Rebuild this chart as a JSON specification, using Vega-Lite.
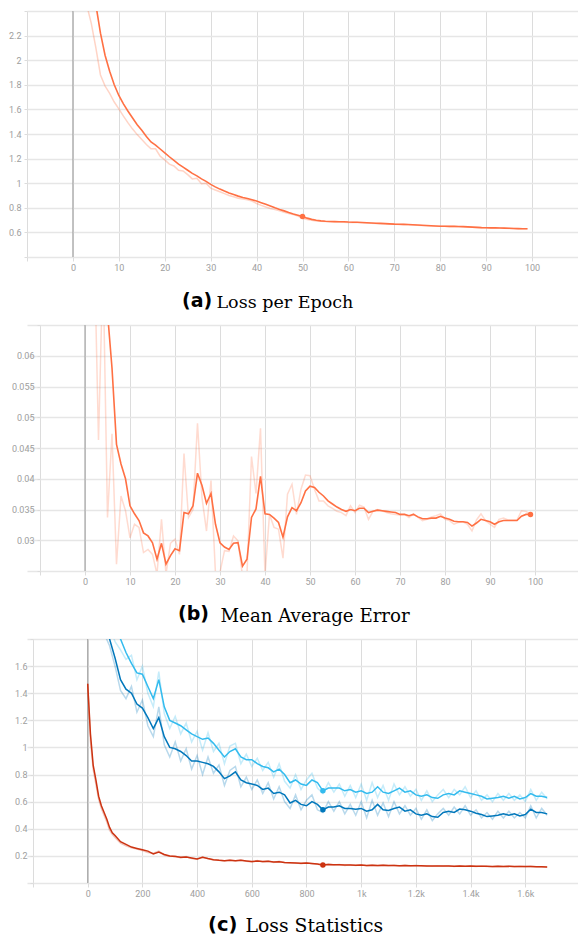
{
"$schema": "https://vega.github.io/schema/vega-lite/v6.json",
"padding": {"left": 0, "right": 0, "top": 7, "bottom": 0},
"config": {"view": {"stroke": null}, "axis": {"labelFont": "Roboto", "labelFontSize": 9, "labelColor": "#9e9e9e", "domain": false, "labelOverlap": false, "labelFlush": false}},
"datasets": {
"epochLoss": [
{"epoch":0,"smooth":3.5,"raw":3.5},{"epoch":1,"smooth":3.25,"raw":2.9},{"epoch":2,"smooth":3.0,"raw":2.65},{"epoch":3,"smooth":2.8,"raw":2.45},{"epoch":4,"smooth":2.62,"raw":2.3},{"epoch":5,"smooth":2.45,"raw":2.1},{"epoch":6,"smooth":2.22,"raw":1.88},{"epoch":7,"smooth":2.04,"raw":1.79},{"epoch":8,"smooth":1.91,"raw":1.73},{"epoch":9,"smooth":1.8,"raw":1.66},
{"epoch":10,"smooth":1.713,"raw":1.605},{"epoch":11,"smooth":1.645,"raw":1.545},{"epoch":12,"smooth":1.585,"raw":1.49},{"epoch":13,"smooth":1.53,"raw":1.44},{"epoch":14,"smooth":1.475,"raw":1.395},{"epoch":15,"smooth":1.43,"raw":1.355},{"epoch":16,"smooth":1.38,"raw":1.315},{"epoch":17,"smooth":1.335,"raw":1.28},{"epoch":18,"smooth":1.31,"raw":1.28},{"epoch":19,"smooth":1.278,"raw":1.22},
{"epoch":20,"smooth":1.247,"raw":1.19},{"epoch":21,"smooth":1.215,"raw":1.155},{"epoch":22,"smooth":1.185,"raw":1.14},{"epoch":23,"smooth":1.155,"raw":1.105},{"epoch":24,"smooth":1.13,"raw":1.1},{"epoch":25,"smooth":1.105,"raw":1.07},{"epoch":26,"smooth":1.08,"raw":1.035},{"epoch":27,"smooth":1.06,"raw":1.04},{"epoch":28,"smooth":1.035,"raw":0.995},{"epoch":29,"smooth":1.015,"raw":1.0},
{"epoch":30,"smooth":0.99,"raw":0.96},{"epoch":31,"smooth":0.97,"raw":0.945},{"epoch":32,"smooth":0.952,"raw":0.93},{"epoch":33,"smooth":0.936,"raw":0.915},{"epoch":34,"smooth":0.921,"raw":0.9},{"epoch":35,"smooth":0.908,"raw":0.89},{"epoch":36,"smooth":0.895,"raw":0.878},{"epoch":37,"smooth":0.884,"raw":0.872},{"epoch":38,"smooth":0.875,"raw":0.866},{"epoch":39,"smooth":0.866,"raw":0.855},
{"epoch":40,"smooth":0.855,"raw":0.835},{"epoch":41,"smooth":0.842,"raw":0.82},{"epoch":42,"smooth":0.828,"raw":0.806},{"epoch":43,"smooth":0.814,"raw":0.795},{"epoch":44,"smooth":0.8,"raw":0.785},{"epoch":45,"smooth":0.787,"raw":0.775},{"epoch":46,"smooth":0.775,"raw":0.764},{"epoch":47,"smooth":0.762,"raw":0.754},{"epoch":48,"smooth":0.75,"raw":0.745},{"epoch":49,"smooth":0.74,"raw":0.733},
{"epoch":50,"smooth":0.73,"raw":0.715},{"epoch":51,"smooth":0.716,"raw":0.705},{"epoch":52,"smooth":0.706,"raw":0.698},{"epoch":53,"smooth":0.699,"raw":0.693},{"epoch":54,"smooth":0.694,"raw":0.69},{"epoch":55,"smooth":0.691,"raw":0.688},{"epoch":56,"smooth":0.689,"raw":0.687},{"epoch":57,"smooth":0.688,"raw":0.686},{"epoch":58,"smooth":0.687,"raw":0.684},{"epoch":59,"smooth":0.686,"raw":0.683},
{"epoch":60,"smooth":0.684,"raw":0.681},{"epoch":61,"smooth":0.683,"raw":0.682},{"epoch":62,"smooth":0.682,"raw":0.68},{"epoch":63,"smooth":0.681,"raw":0.679},{"epoch":64,"smooth":0.679,"raw":0.677},{"epoch":65,"smooth":0.677,"raw":0.675},{"epoch":66,"smooth":0.675,"raw":0.673},{"epoch":67,"smooth":0.673,"raw":0.671},{"epoch":68,"smooth":0.671,"raw":0.67},{"epoch":69,"smooth":0.669,"raw":0.667},
{"epoch":70,"smooth":0.667,"raw":0.666},{"epoch":71,"smooth":0.666,"raw":0.665},{"epoch":72,"smooth":0.665,"raw":0.664},{"epoch":73,"smooth":0.664,"raw":0.662},{"epoch":74,"smooth":0.662,"raw":0.66},{"epoch":75,"smooth":0.66,"raw":0.658},{"epoch":76,"smooth":0.658,"raw":0.656},{"epoch":77,"smooth":0.656,"raw":0.655},{"epoch":78,"smooth":0.654,"raw":0.652},{"epoch":79,"smooth":0.652,"raw":0.651},
{"epoch":80,"smooth":0.65,"raw":0.649},{"epoch":81,"smooth":0.65,"raw":0.649},{"epoch":82,"smooth":0.649,"raw":0.648},{"epoch":83,"smooth":0.649,"raw":0.647},{"epoch":84,"smooth":0.648,"raw":0.646},{"epoch":85,"smooth":0.647,"raw":0.645},{"epoch":86,"smooth":0.645,"raw":0.643},{"epoch":87,"smooth":0.643,"raw":0.641},{"epoch":88,"smooth":0.641,"raw":0.64},{"epoch":89,"smooth":0.639,"raw":0.638},
{"epoch":90,"smooth":0.638,"raw":0.637},{"epoch":91,"smooth":0.637,"raw":0.636},{"epoch":92,"smooth":0.637,"raw":0.636},{"epoch":93,"smooth":0.636,"raw":0.635},{"epoch":94,"smooth":0.635,"raw":0.633},{"epoch":95,"smooth":0.634,"raw":0.632},{"epoch":96,"smooth":0.632,"raw":0.631},{"epoch":97,"smooth":0.631,"raw":0.63},{"epoch":98,"smooth":0.63,"raw":0.629},{"epoch":99,"smooth":0.63,"raw":0.629}
],
"mae": [
{"epoch":0,"smooth":0.12,"raw":0.12},{"epoch":1,"smooth":0.105,"raw":0.1},{"epoch":2,"smooth":0.09,"raw":0.08},{"epoch":3,"smooth":0.078,"raw":0.0463},{"epoch":4,"smooth":0.073,"raw":0.075},{"epoch":5,"smooth":0.067,"raw":0.0337},{"epoch":6,"smooth":0.058,"raw":0.0473},{"epoch":7,"smooth":0.0456,"raw":0.0261},{"epoch":8,"smooth":0.0424,"raw":0.0372},{"epoch":9,"smooth":0.04,"raw":0.0348},
{"epoch":10,"smooth":0.0356,"raw":0.0304},{"epoch":11,"smooth":0.0343,"raw":0.0326},{"epoch":12,"smooth":0.0332,"raw":0.0321},{"epoch":13,"smooth":0.0312,"raw":0.028},{"epoch":14,"smooth":0.0307,"raw":0.0285},{"epoch":15,"smooth":0.0296,"raw":0.0277},{"epoch":16,"smooth":0.0269,"raw":0.0245},{"epoch":17,"smooth":0.0295,"raw":0.0334},{"epoch":18,"smooth":0.0261,"raw":0.0245},{"epoch":19,"smooth":0.0275,"raw":0.0295},
{"epoch":20,"smooth":0.0286,"raw":0.0302},{"epoch":21,"smooth":0.0283,"raw":0.0277},{"epoch":22,"smooth":0.0345,"raw":0.0441},{"epoch":23,"smooth":0.0343,"raw":0.0337},{"epoch":24,"smooth":0.0356,"raw":0.035},{"epoch":25,"smooth":0.0409,"raw":0.049},{"epoch":26,"smooth":0.0389,"raw":0.0369},{"epoch":27,"smooth":0.036,"raw":0.0315},{"epoch":28,"smooth":0.0376,"raw":0.0397},{"epoch":29,"smooth":0.0326,"raw":0.0245},
{"epoch":30,"smooth":0.0296,"raw":0.0248},{"epoch":31,"smooth":0.0289,"raw":0.0283},{"epoch":32,"smooth":0.0285,"raw":0.0282},{"epoch":33,"smooth":0.0295,"raw":0.0307},{"epoch":34,"smooth":0.0296,"raw":0.0299},{"epoch":35,"smooth":0.0258,"raw":0.0242},{"epoch":36,"smooth":0.0269,"raw":0.0245},{"epoch":37,"smooth":0.0337,"raw":0.0436},{"epoch":38,"smooth":0.0351,"raw":0.0376},{"epoch":39,"smooth":0.0404,"raw":0.0482},
{"epoch":40,"smooth":0.0343,"raw":0.0243},{"epoch":41,"smooth":0.0342,"raw":0.0342},{"epoch":42,"smooth":0.0336,"raw":0.0321},{"epoch":43,"smooth":0.0329,"raw":0.0318},{"epoch":44,"smooth":0.0305,"raw":0.0271},{"epoch":45,"smooth":0.0338,"raw":0.0375},{"epoch":46,"smooth":0.0353,"raw":0.0391},{"epoch":47,"smooth":0.0348,"raw":0.0342},{"epoch":48,"smooth":0.0361,"raw":0.0383},{"epoch":49,"smooth":0.038,"raw":0.0406},
{"epoch":50,"smooth":0.0388,"raw":0.0405},{"epoch":51,"smooth":0.0386,"raw":0.0383},{"epoch":52,"smooth":0.0378,"raw":0.0364},{"epoch":53,"smooth":0.0372,"raw":0.0364},{"epoch":54,"smooth":0.0364,"raw":0.0356},{"epoch":55,"smooth":0.0359,"raw":0.0352},{"epoch":56,"smooth":0.0354,"raw":0.0347},{"epoch":57,"smooth":0.035,"raw":0.0345},{"epoch":58,"smooth":0.0347,"raw":0.034},{"epoch":59,"smooth":0.035,"raw":0.0356},
{"epoch":60,"smooth":0.0348,"raw":0.0345},{"epoch":61,"smooth":0.0352,"raw":0.0357},{"epoch":62,"smooth":0.0352,"raw":0.0354},{"epoch":63,"smooth":0.0345,"raw":0.0334},{"epoch":64,"smooth":0.0347,"raw":0.0347},{"epoch":65,"smooth":0.0349,"raw":0.035},{"epoch":66,"smooth":0.0348,"raw":0.0348},{"epoch":67,"smooth":0.0347,"raw":0.0345},{"epoch":68,"smooth":0.0346,"raw":0.0343},{"epoch":69,"smooth":0.0345,"raw":0.0342},
{"epoch":70,"smooth":0.0342,"raw":0.0341},{"epoch":71,"smooth":0.0342,"raw":0.0342},{"epoch":72,"smooth":0.034,"raw":0.0337},{"epoch":73,"smooth":0.0342,"raw":0.0343},{"epoch":74,"smooth":0.0338,"raw":0.0337},{"epoch":75,"smooth":0.0335,"raw":0.0332},{"epoch":76,"smooth":0.0335,"raw":0.0334},{"epoch":77,"smooth":0.0336,"raw":0.0338},{"epoch":78,"smooth":0.0336,"raw":0.034},{"epoch":79,"smooth":0.0339,"raw":0.0343},
{"epoch":80,"smooth":0.0336,"raw":0.0334},{"epoch":81,"smooth":0.0334,"raw":0.0332},{"epoch":82,"smooth":0.0331,"raw":0.0326},{"epoch":83,"smooth":0.033,"raw":0.0329},{"epoch":84,"smooth":0.033,"raw":0.033},{"epoch":85,"smooth":0.0329,"raw":0.0326},{"epoch":86,"smooth":0.0323,"raw":0.0315},{"epoch":87,"smooth":0.0328,"raw":0.0333},{"epoch":88,"smooth":0.0334,"raw":0.0343},{"epoch":89,"smooth":0.0332,"raw":0.0332},
{"epoch":90,"smooth":0.033,"raw":0.0326},{"epoch":91,"smooth":0.0326,"raw":0.0321},{"epoch":92,"smooth":0.033,"raw":0.0334},{"epoch":93,"smooth":0.0332,"raw":0.0336},{"epoch":94,"smooth":0.0332,"raw":0.0333},{"epoch":95,"smooth":0.0332,"raw":0.0333},{"epoch":96,"smooth":0.0332,"raw":0.0333},{"epoch":97,"smooth":0.0339,"raw":0.0348},{"epoch":98,"smooth":0.0342,"raw":0.0347},{"epoch":99,"smooth":0.0342,"raw":0.0342}
],
"stats": [
{"step":0,"series":"total","smooth":1.47,"raw":1.47},{"step":10,"series":"total","smooth":1.1,"raw":1.05},{"step":20,"series":"total","smooth":0.87,"raw":0.84},{"step":30,"series":"total","smooth":0.76,"raw":0.73},{"step":40,"series":"total","smooth":0.64,"raw":0.62},{"step":50,"series":"total","smooth":0.57,"raw":0.55},{"step":60,"series":"total","smooth":0.52,"raw":0.5},{"step":70,"series":"total","smooth":0.47,"raw":0.45},{"step":80,"series":"total","smooth":0.41,"raw":0.39},{"step":90,"series":"total","smooth":0.37,"raw":0.36},
{"step":100,"series":"total","smooth":0.35,"raw":0.335},{"step":120,"series":"total","smooth":0.305,"raw":0.295},{"step":140,"series":"total","smooth":0.285,"raw":0.275},{"step":160,"series":"total","smooth":0.265,"raw":0.26},{"step":180,"series":"total","smooth":0.255,"raw":0.25},{"step":200,"series":"total","smooth":0.245,"raw":0.24},{"step":220,"series":"total","smooth":0.235,"raw":0.225},{"step":240,"series":"total","smooth":0.215,"raw":0.22},{"step":260,"series":"total","smooth":0.228,"raw":0.235},{"step":280,"series":"total","smooth":0.21,"raw":0.205},
{"step":300,"series":"total","smooth":0.2,"raw":0.198},{"step":320,"series":"total","smooth":0.195,"raw":0.2},{"step":340,"series":"total","smooth":0.19,"raw":0.185},{"step":360,"series":"total","smooth":0.192,"raw":0.195},{"step":380,"series":"total","smooth":0.185,"raw":0.18},{"step":400,"series":"total","smooth":0.178,"raw":0.175},{"step":420,"series":"total","smooth":0.19,"raw":0.192},{"step":440,"series":"total","smooth":0.18,"raw":0.178},{"step":460,"series":"total","smooth":0.172,"raw":0.17},{"step":480,"series":"total","smooth":0.168,"raw":0.17},
{"step":500,"series":"total","smooth":0.165,"raw":0.163},{"step":520,"series":"total","smooth":0.167,"raw":0.17},{"step":540,"series":"total","smooth":0.165,"raw":0.162},{"step":560,"series":"total","smooth":0.168,"raw":0.17},{"step":580,"series":"total","smooth":0.163,"raw":0.16},{"step":600,"series":"total","smooth":0.158,"raw":0.155},{"step":620,"series":"total","smooth":0.162,"raw":0.165},{"step":640,"series":"total","smooth":0.158,"raw":0.155},{"step":660,"series":"total","smooth":0.16,"raw":0.162},{"step":680,"series":"total","smooth":0.155,"raw":0.152},
{"step":700,"series":"total","smooth":0.157,"raw":0.16},{"step":720,"series":"total","smooth":0.152,"raw":0.15},{"step":740,"series":"total","smooth":0.15,"raw":0.148},{"step":760,"series":"total","smooth":0.148,"raw":0.15},{"step":780,"series":"total","smooth":0.145,"raw":0.142},{"step":800,"series":"total","smooth":0.147,"raw":0.15},{"step":820,"series":"total","smooth":0.144,"raw":0.142},{"step":840,"series":"total","smooth":0.14,"raw":0.138},{"step":860,"series":"total","smooth":0.132,"raw":0.131},{"step":880,"series":"total","smooth":0.137,"raw":0.14},
{"step":900,"series":"total","smooth":0.135,"raw":0.133},{"step":920,"series":"total","smooth":0.134,"raw":0.136},{"step":940,"series":"total","smooth":0.132,"raw":0.13},{"step":960,"series":"total","smooth":0.133,"raw":0.135},{"step":980,"series":"total","smooth":0.131,"raw":0.129},{"step":1000,"series":"total","smooth":0.132,"raw":0.134},{"step":1020,"series":"total","smooth":0.13,"raw":0.128},{"step":1040,"series":"total","smooth":0.131,"raw":0.133},{"step":1060,"series":"total","smooth":0.13,"raw":0.128},{"step":1080,"series":"total","smooth":0.131,"raw":0.133},
{"step":1100,"series":"total","smooth":0.129,"raw":0.127},{"step":1120,"series":"total","smooth":0.13,"raw":0.131},{"step":1140,"series":"total","smooth":0.128,"raw":0.126},{"step":1160,"series":"total","smooth":0.129,"raw":0.131},{"step":1180,"series":"total","smooth":0.127,"raw":0.125},{"step":1200,"series":"total","smooth":0.128,"raw":0.13},{"step":1220,"series":"total","smooth":0.127,"raw":0.125},{"step":1240,"series":"total","smooth":0.126,"raw":0.128},{"step":1260,"series":"total","smooth":0.125,"raw":0.123},{"step":1280,"series":"total","smooth":0.126,"raw":0.128},
{"step":1300,"series":"total","smooth":0.125,"raw":0.124},{"step":1320,"series":"total","smooth":0.126,"raw":0.127},{"step":1340,"series":"total","smooth":0.124,"raw":0.122},{"step":1360,"series":"total","smooth":0.125,"raw":0.127},{"step":1380,"series":"total","smooth":0.124,"raw":0.123},{"step":1400,"series":"total","smooth":0.125,"raw":0.126},{"step":1420,"series":"total","smooth":0.123,"raw":0.121},{"step":1440,"series":"total","smooth":0.124,"raw":0.125},{"step":1460,"series":"total","smooth":0.123,"raw":0.122},{"step":1480,"series":"total","smooth":0.122,"raw":0.12},
{"step":1500,"series":"total","smooth":0.123,"raw":0.124},{"step":1520,"series":"total","smooth":0.122,"raw":0.121},{"step":1540,"series":"total","smooth":0.123,"raw":0.124},{"step":1560,"series":"total","smooth":0.121,"raw":0.12},{"step":1580,"series":"total","smooth":0.122,"raw":0.123},{"step":1600,"series":"total","smooth":0.121,"raw":0.12},{"step":1620,"series":"total","smooth":0.122,"raw":0.123},{"step":1640,"series":"total","smooth":0.12,"raw":0.119},{"step":1660,"series":"total","smooth":0.119,"raw":0.118},{"step":1680,"series":"total","smooth":0.118,"raw":0.117},
{"step":0,"series":"dark","smooth":2.4,"raw":2.4},{"step":20,"series":"dark","smooth":2.2,"raw":2.15},{"step":40,"series":"dark","smooth":2.0,"raw":2.05},{"step":60,"series":"dark","smooth":1.9,"raw":1.84},{"step":80,"series":"dark","smooth":1.8,"raw":1.75},{"step":100,"series":"dark","smooth":1.66,"raw":1.6},{"step":120,"series":"dark","smooth":1.5,"raw":1.42},{"step":140,"series":"dark","smooth":1.43,"raw":1.36},{"step":160,"series":"dark","smooth":1.4,"raw":1.45},{"step":180,"series":"dark","smooth":1.32,"raw":1.26},
{"step":200,"series":"dark","smooth":1.29,"raw":1.35},{"step":220,"series":"dark","smooth":1.22,"raw":1.16},{"step":240,"series":"dark","smooth":1.14,"raw":1.08},{"step":260,"series":"dark","smooth":1.22,"raw":1.3},{"step":280,"series":"dark","smooth":1.08,"raw":1.02},{"step":300,"series":"dark","smooth":1.0,"raw":0.93},{"step":320,"series":"dark","smooth":0.99,"raw":1.04},{"step":340,"series":"dark","smooth":0.97,"raw":0.9},{"step":360,"series":"dark","smooth":0.94,"raw":0.99},{"step":380,"series":"dark","smooth":0.9,"raw":0.84},
{"step":400,"series":"dark","smooth":0.9,"raw":0.94},{"step":420,"series":"dark","smooth":0.89,"raw":0.8},{"step":440,"series":"dark","smooth":0.88,"raw":0.93},{"step":460,"series":"dark","smooth":0.86,"raw":0.81},{"step":480,"series":"dark","smooth":0.82,"raw":0.87},{"step":500,"series":"dark","smooth":0.77,"raw":0.72},{"step":520,"series":"dark","smooth":0.79,"raw":0.83},{"step":540,"series":"dark","smooth":0.82,"raw":0.86},{"step":560,"series":"dark","smooth":0.76,"raw":0.71},{"step":580,"series":"dark","smooth":0.74,"raw":0.78},
{"step":600,"series":"dark","smooth":0.73,"raw":0.69},{"step":620,"series":"dark","smooth":0.72,"raw":0.76},{"step":640,"series":"dark","smooth":0.69,"raw":0.66},{"step":660,"series":"dark","smooth":0.7,"raw":0.74},{"step":680,"series":"dark","smooth":0.66,"raw":0.62},{"step":700,"series":"dark","smooth":0.67,"raw":0.71},{"step":720,"series":"dark","smooth":0.65,"raw":0.6},{"step":740,"series":"dark","smooth":0.59,"raw":0.55},{"step":760,"series":"dark","smooth":0.61,"raw":0.65},{"step":780,"series":"dark","smooth":0.58,"raw":0.54},
{"step":800,"series":"dark","smooth":0.57,"raw":0.61},{"step":820,"series":"dark","smooth":0.6,"raw":0.65},{"step":840,"series":"dark","smooth":0.58,"raw":0.54},{"step":860,"series":"dark","smooth":0.54,"raw":0.52},{"step":880,"series":"dark","smooth":0.56,"raw":0.6},{"step":900,"series":"dark","smooth":0.56,"raw":0.53},{"step":920,"series":"dark","smooth":0.57,"raw":0.6},{"step":940,"series":"dark","smooth":0.55,"raw":0.51},{"step":960,"series":"dark","smooth":0.55,"raw":0.58},{"step":980,"series":"dark","smooth":0.545,"raw":0.5},
{"step":1000,"series":"dark","smooth":0.55,"raw":0.6},{"step":1020,"series":"dark","smooth":0.53,"raw":0.48},{"step":1040,"series":"dark","smooth":0.54,"raw":0.61},{"step":1060,"series":"dark","smooth":0.58,"raw":0.5},{"step":1080,"series":"dark","smooth":0.54,"raw":0.59},{"step":1100,"series":"dark","smooth":0.535,"raw":0.49},{"step":1120,"series":"dark","smooth":0.55,"raw":0.6},{"step":1140,"series":"dark","smooth":0.56,"raw":0.51},{"step":1160,"series":"dark","smooth":0.53,"raw":0.57},{"step":1180,"series":"dark","smooth":0.54,"raw":0.5},
{"step":1200,"series":"dark","smooth":0.51,"raw":0.55},{"step":1220,"series":"dark","smooth":0.5,"raw":0.47},{"step":1240,"series":"dark","smooth":0.51,"raw":0.54},{"step":1260,"series":"dark","smooth":0.49,"raw":0.46},{"step":1280,"series":"dark","smooth":0.485,"raw":0.51},{"step":1300,"series":"dark","smooth":0.52,"raw":0.55},{"step":1320,"series":"dark","smooth":0.53,"raw":0.5},{"step":1340,"series":"dark","smooth":0.52,"raw":0.56},{"step":1360,"series":"dark","smooth":0.545,"raw":0.51},{"step":1380,"series":"dark","smooth":0.54,"raw":0.57},
{"step":1400,"series":"dark","smooth":0.53,"raw":0.5},{"step":1420,"series":"dark","smooth":0.515,"raw":0.54},{"step":1440,"series":"dark","smooth":0.505,"raw":0.48},{"step":1460,"series":"dark","smooth":0.49,"raw":0.52},{"step":1480,"series":"dark","smooth":0.495,"raw":0.47},{"step":1500,"series":"dark","smooth":0.5,"raw":0.53},{"step":1520,"series":"dark","smooth":0.51,"raw":0.48},{"step":1540,"series":"dark","smooth":0.5,"raw":0.53},{"step":1560,"series":"dark","smooth":0.51,"raw":0.48},{"step":1580,"series":"dark","smooth":0.495,"raw":0.52},
{"step":1600,"series":"dark","smooth":0.505,"raw":0.48},{"step":1620,"series":"dark","smooth":0.545,"raw":0.57},{"step":1640,"series":"dark","smooth":0.52,"raw":0.48},{"step":1660,"series":"dark","smooth":0.52,"raw":0.55},{"step":1680,"series":"dark","smooth":0.51,"raw":0.5},
{"step":0,"series":"light","smooth":2.6,"raw":2.6},{"step":20,"series":"light","smooth":2.4,"raw":2.35},{"step":40,"series":"light","smooth":2.2,"raw":2.25},{"step":60,"series":"light","smooth":2.05,"raw":1.98},{"step":80,"series":"light","smooth":1.95,"raw":1.9},{"step":100,"series":"light","smooth":1.85,"raw":1.78},{"step":120,"series":"light","smooth":1.8,"raw":1.72},{"step":140,"series":"light","smooth":1.7,"raw":1.65},{"step":160,"series":"light","smooth":1.62,"raw":1.68},{"step":180,"series":"light","smooth":1.55,"raw":1.5},
{"step":200,"series":"light","smooth":1.54,"raw":1.6},{"step":220,"series":"light","smooth":1.45,"raw":1.4},{"step":240,"series":"light","smooth":1.36,"raw":1.3},{"step":260,"series":"light","smooth":1.5,"raw":1.56},{"step":280,"series":"light","smooth":1.3,"raw":1.25},{"step":300,"series":"light","smooth":1.2,"raw":1.14},{"step":320,"series":"light","smooth":1.18,"raw":1.23},{"step":340,"series":"light","smooth":1.16,"raw":1.1},{"step":360,"series":"light","smooth":1.13,"raw":1.18},{"step":380,"series":"light","smooth":1.1,"raw":1.04},
{"step":400,"series":"light","smooth":1.08,"raw":1.12},{"step":420,"series":"light","smooth":1.06,"raw":0.98},{"step":440,"series":"light","smooth":1.07,"raw":1.11},{"step":460,"series":"light","smooth":1.03,"raw":0.97},{"step":480,"series":"light","smooth":0.98,"raw":1.03},{"step":500,"series":"light","smooth":0.93,"raw":0.88},{"step":520,"series":"light","smooth":0.97,"raw":1.01},{"step":540,"series":"light","smooth":0.99,"raw":1.03},{"step":560,"series":"light","smooth":0.93,"raw":0.88},{"step":580,"series":"light","smooth":0.91,"raw":0.95},
{"step":600,"series":"light","smooth":0.91,"raw":0.86},{"step":620,"series":"light","smooth":0.88,"raw":0.92},{"step":640,"series":"light","smooth":0.86,"raw":0.83},{"step":660,"series":"light","smooth":0.85,"raw":0.89},{"step":680,"series":"light","smooth":0.82,"raw":0.78},{"step":700,"series":"light","smooth":0.84,"raw":0.88},{"step":720,"series":"light","smooth":0.8,"raw":0.75},{"step":740,"series":"light","smooth":0.74,"raw":0.7},{"step":760,"series":"light","smooth":0.76,"raw":0.8},{"step":780,"series":"light","smooth":0.73,"raw":0.69},
{"step":800,"series":"light","smooth":0.72,"raw":0.76},{"step":820,"series":"light","smooth":0.76,"raw":0.81},{"step":840,"series":"light","smooth":0.74,"raw":0.7},{"step":860,"series":"light","smooth":0.68,"raw":0.66},{"step":880,"series":"light","smooth":0.7,"raw":0.74},{"step":900,"series":"light","smooth":0.7,"raw":0.67},{"step":920,"series":"light","smooth":0.7,"raw":0.73},{"step":940,"series":"light","smooth":0.68,"raw":0.64},{"step":960,"series":"light","smooth":0.69,"raw":0.72},{"step":980,"series":"light","smooth":0.67,"raw":0.63},
{"step":1000,"series":"light","smooth":0.68,"raw":0.73},{"step":1020,"series":"light","smooth":0.66,"raw":0.61},{"step":1040,"series":"light","smooth":0.67,"raw":0.74},{"step":1060,"series":"light","smooth":0.71,"raw":0.63},{"step":1080,"series":"light","smooth":0.67,"raw":0.72},{"step":1100,"series":"light","smooth":0.66,"raw":0.61},{"step":1120,"series":"light","smooth":0.68,"raw":0.73},{"step":1140,"series":"light","smooth":0.7,"raw":0.65},{"step":1160,"series":"light","smooth":0.67,"raw":0.71},{"step":1180,"series":"light","smooth":0.68,"raw":0.64},
{"step":1200,"series":"light","smooth":0.65,"raw":0.69},{"step":1220,"series":"light","smooth":0.64,"raw":0.61},{"step":1240,"series":"light","smooth":0.65,"raw":0.68},{"step":1260,"series":"light","smooth":0.63,"raw":0.6},{"step":1280,"series":"light","smooth":0.625,"raw":0.65},{"step":1300,"series":"light","smooth":0.65,"raw":0.69},{"step":1320,"series":"light","smooth":0.66,"raw":0.63},{"step":1340,"series":"light","smooth":0.65,"raw":0.69},{"step":1360,"series":"light","smooth":0.68,"raw":0.65},{"step":1380,"series":"light","smooth":0.67,"raw":0.71},
{"step":1400,"series":"light","smooth":0.66,"raw":0.63},{"step":1420,"series":"light","smooth":0.65,"raw":0.68},{"step":1440,"series":"light","smooth":0.64,"raw":0.61},{"step":1460,"series":"light","smooth":0.62,"raw":0.65},{"step":1480,"series":"light","smooth":0.625,"raw":0.6},{"step":1500,"series":"light","smooth":0.63,"raw":0.66},{"step":1520,"series":"light","smooth":0.64,"raw":0.61},{"step":1540,"series":"light","smooth":0.625,"raw":0.66},{"step":1560,"series":"light","smooth":0.64,"raw":0.61},{"step":1580,"series":"light","smooth":0.62,"raw":0.65},
{"step":1600,"series":"light","smooth":0.63,"raw":0.6},{"step":1620,"series":"light","smooth":0.66,"raw":0.69},{"step":1640,"series":"light","smooth":0.64,"raw":0.61},{"step":1660,"series":"light","smooth":0.64,"raw":0.67},{"step":1680,"series":"light","smooth":0.63,"raw":0.62}
],
"zero": [{"epoch": 0, "step": 0}]
},
"vconcat": [
{
"width": 551, "height": 246,
"title": {"text": "(a)", "orient": "bottom", "anchor": "start", "frame": "group", "dx": 155, "offset": -4, "baseline": "alphabetic", "font": "DejaVu Sans", "fontWeight": "bold", "fontSize": 19, "color": "#000000"},
"encoding": {
"x": {"field": "epoch", "type": "quantitative", "scale": {"domain": [-10, 110], "nice": false, "zero": false},
"axis": {"values": [-10,0,10,20,30,40,50,60,70,80,90,100,110], "labelExpr": "datum.value == -10 || datum.value == 110 ? '' : format(datum.value, 'd')", "labelOverlap": false, "grid": true, "gridColor": "#dcdcdc", "tickColor": "#dcdcdc", "tickSize": 4, "labelPadding": 2, "title": "Loss per Epoch", "titleFont": "DejaVu Serif", "titleFontSize": 17.5, "titleFontWeight": "normal", "titleColor": "#000000", "titleX": 189, "titleY": 50, "titleAlign": "left", "titleBaseline": "alphabetic"}},
"y": {"field": "smooth", "type": "quantitative", "scale": {"domain": [0.4, 2.4], "nice": false, "zero": false},
"axis": {"values": [0.4,0.6,0.8,1,1.2,1.4,1.6,1.8,2,2.2,2.4], "labelExpr": "datum.value == 0.4 || datum.value == 2.4 ? '' : format(datum.value, '~r')", "labelOverlap": false, "gridColor": "#e6e6e6", "gridWidth": 1.3, "tickColor": "#dcdcdc", "tickSize": 3, "labelPadding": 3, "title": null, "minExtent": 27, "maxExtent": 27}}
},
"layer": [
{"data": {"name": "zero"}, "mark": {"type": "rule", "color": "#a6a6a6", "strokeWidth": 1.2}, "encoding": {"y": null}},
{"data": {"name": "epochLoss"}, "mark": {"type": "line", "color": "#ff7043", "opacity": 0.3, "strokeWidth": 1.5, "clip": true},
 "encoding": {"y": {"field": "raw", "type": "quantitative"}}},
{"data": {"name": "epochLoss"}, "mark": {"type": "line", "color": "#ff7043", "strokeWidth": 1.6, "clip": true}, "encoding": {}},
{"data": {"name": "epochLoss"}, "transform": [{"filter": "datum.epoch == 50"}], "mark": {"type": "point", "filled": true, "color": "#ff7043", "size": 30, "opacity": 1}}
]
},
{
"width": 551, "height": 246,
"title": {"text": "(b)", "orient": "bottom", "anchor": "start", "frame": "group", "dx": 151, "offset": -4, "baseline": "alphabetic", "font": "DejaVu Sans", "fontWeight": "bold", "fontSize": 19, "color": "#000000"},
"encoding": {
"x": {"field": "epoch", "type": "quantitative", "scale": {"domain": [-12.89, 109.56], "nice": false, "zero": false},
"axis": {"values": [-10,0,10,20,30,40,50,60,70,80,90,100], "labelExpr": "datum.value == -10 ? '' : format(datum.value, 'd')", "labelOverlap": false, "grid": true, "gridColor": "#dcdcdc", "tickColor": "#dcdcdc", "tickSize": 4, "labelPadding": 2, "title": "Mean Average Error", "titleFont": "DejaVu Serif", "titleFontSize": 18.2, "titleFontWeight": "normal", "titleColor": "#000000", "titleX": 193, "titleY": 50, "titleAlign": "left", "titleBaseline": "alphabetic"}},
"y": {"field": "smooth", "type": "quantitative", "scale": {"domain": [0.025, 0.065], "nice": false, "zero": false},
"axis": {"values": [0.025,0.03,0.035,0.04,0.045,0.05,0.055,0.06,0.065], "labelExpr": "datum.value == 0.025 || datum.value == 0.065 ? '' : format(datum.value, '~r')", "labelOverlap": false, "offset": -13, "gridColor": "#e6e6e6", "gridWidth": 1.3, "tickColor": "#dcdcdc", "tickSize": 3, "labelPadding": 3, "title": null, "minExtent": 27, "maxExtent": 27}}
},
"layer": [
{"data": {"name": "zero"}, "mark": {"type": "rule", "color": "#a6a6a6", "strokeWidth": 1.2}, "encoding": {"y": null}},
{"data": {"name": "mae"}, "mark": {"type": "line", "color": "#ff7043", "opacity": 0.25, "strokeWidth": 1.5, "clip": true},
 "encoding": {"y": {"field": "raw", "type": "quantitative"}}},
{"data": {"name": "mae"}, "mark": {"type": "line", "color": "#ff7043", "strokeWidth": 1.6, "clip": true}, "encoding": {}},
{"data": {"name": "mae"}, "transform": [{"filter": "datum.epoch == 99"}], "mark": {"type": "point", "filled": true, "color": "#ff7043", "size": 30, "opacity": 1}}
]
},
{
"width": 551, "height": 244,
"title": {"text": "(c)", "orient": "bottom", "anchor": "start", "frame": "group", "dx": 181, "offset": -4, "baseline": "alphabetic", "font": "DejaVu Sans", "fontWeight": "bold", "fontSize": 19.5, "color": "#000000"},
"encoding": {
"x": {"field": "step", "type": "quantitative", "scale": {"domain": [-221.9, 1792.7], "nice": false, "zero": false},
"axis": {"values": [-200,0,200,400,600,800,1000,1200,1400,1600], "labelExpr": "datum.value == -200 ? '' : (datum.value >= 1000 ? format(datum.value / 1000, '~r') + 'k' : format(datum.value, 'd'))", "labelOverlap": false, "grid": true, "gridColor": "#dcdcdc", "tickColor": "#dcdcdc", "tickSize": 4, "labelPadding": 2, "title": "Loss Statistics", "titleFont": "DejaVu Serif", "titleFontSize": 18.8, "titleFontWeight": "normal", "titleColor": "#000000", "titleX": 218, "titleY": 48, "titleAlign": "left", "titleBaseline": "alphabetic"}},
"y": {"field": "smooth", "type": "quantitative", "scale": {"domain": [0, 1.8], "nice": false, "zero": false},
"axis": {"values": [0,0.2,0.4,0.6,0.8,1,1.2,1.4,1.6,1.8], "labelExpr": "datum.value == 0 || datum.value == 1.8 ? '' : format(datum.value, '~r')", "labelOverlap": false, "offset": -6, "gridColor": "#e6e6e6", "gridWidth": 1.3, "tickColor": "#dcdcdc", "tickSize": 3, "labelPadding": 3, "title": null, "minExtent": 27, "maxExtent": 27}},
"color": {"field": "series", "type": "nominal", "scale": {"domain": ["total", "dark", "light"], "range": ["#cc3311", "#0077bb", "#33bbee"]}, "legend": null}
},
"layer": [
{"data": {"name": "zero"}, "mark": {"type": "rule", "color": "#a6a6a6", "strokeWidth": 1.2}, "encoding": {"y": null, "color": {"value": "#a6a6a6"}}},
{"data": {"name": "stats"}, "mark": {"type": "line", "opacity": 0.28, "strokeWidth": 1.5, "clip": true},
 "encoding": {"y": {"field": "raw", "type": "quantitative"}}},
{"data": {"name": "stats"}, "mark": {"type": "line", "strokeWidth": 1.5, "clip": true}, "encoding": {}},
{"data": {"name": "stats"}, "transform": [{"filter": "datum.step == 860"}], "mark": {"type": "point", "filled": true, "size": 30, "opacity": 1}}
]
}
],
"spacing": 10
}
